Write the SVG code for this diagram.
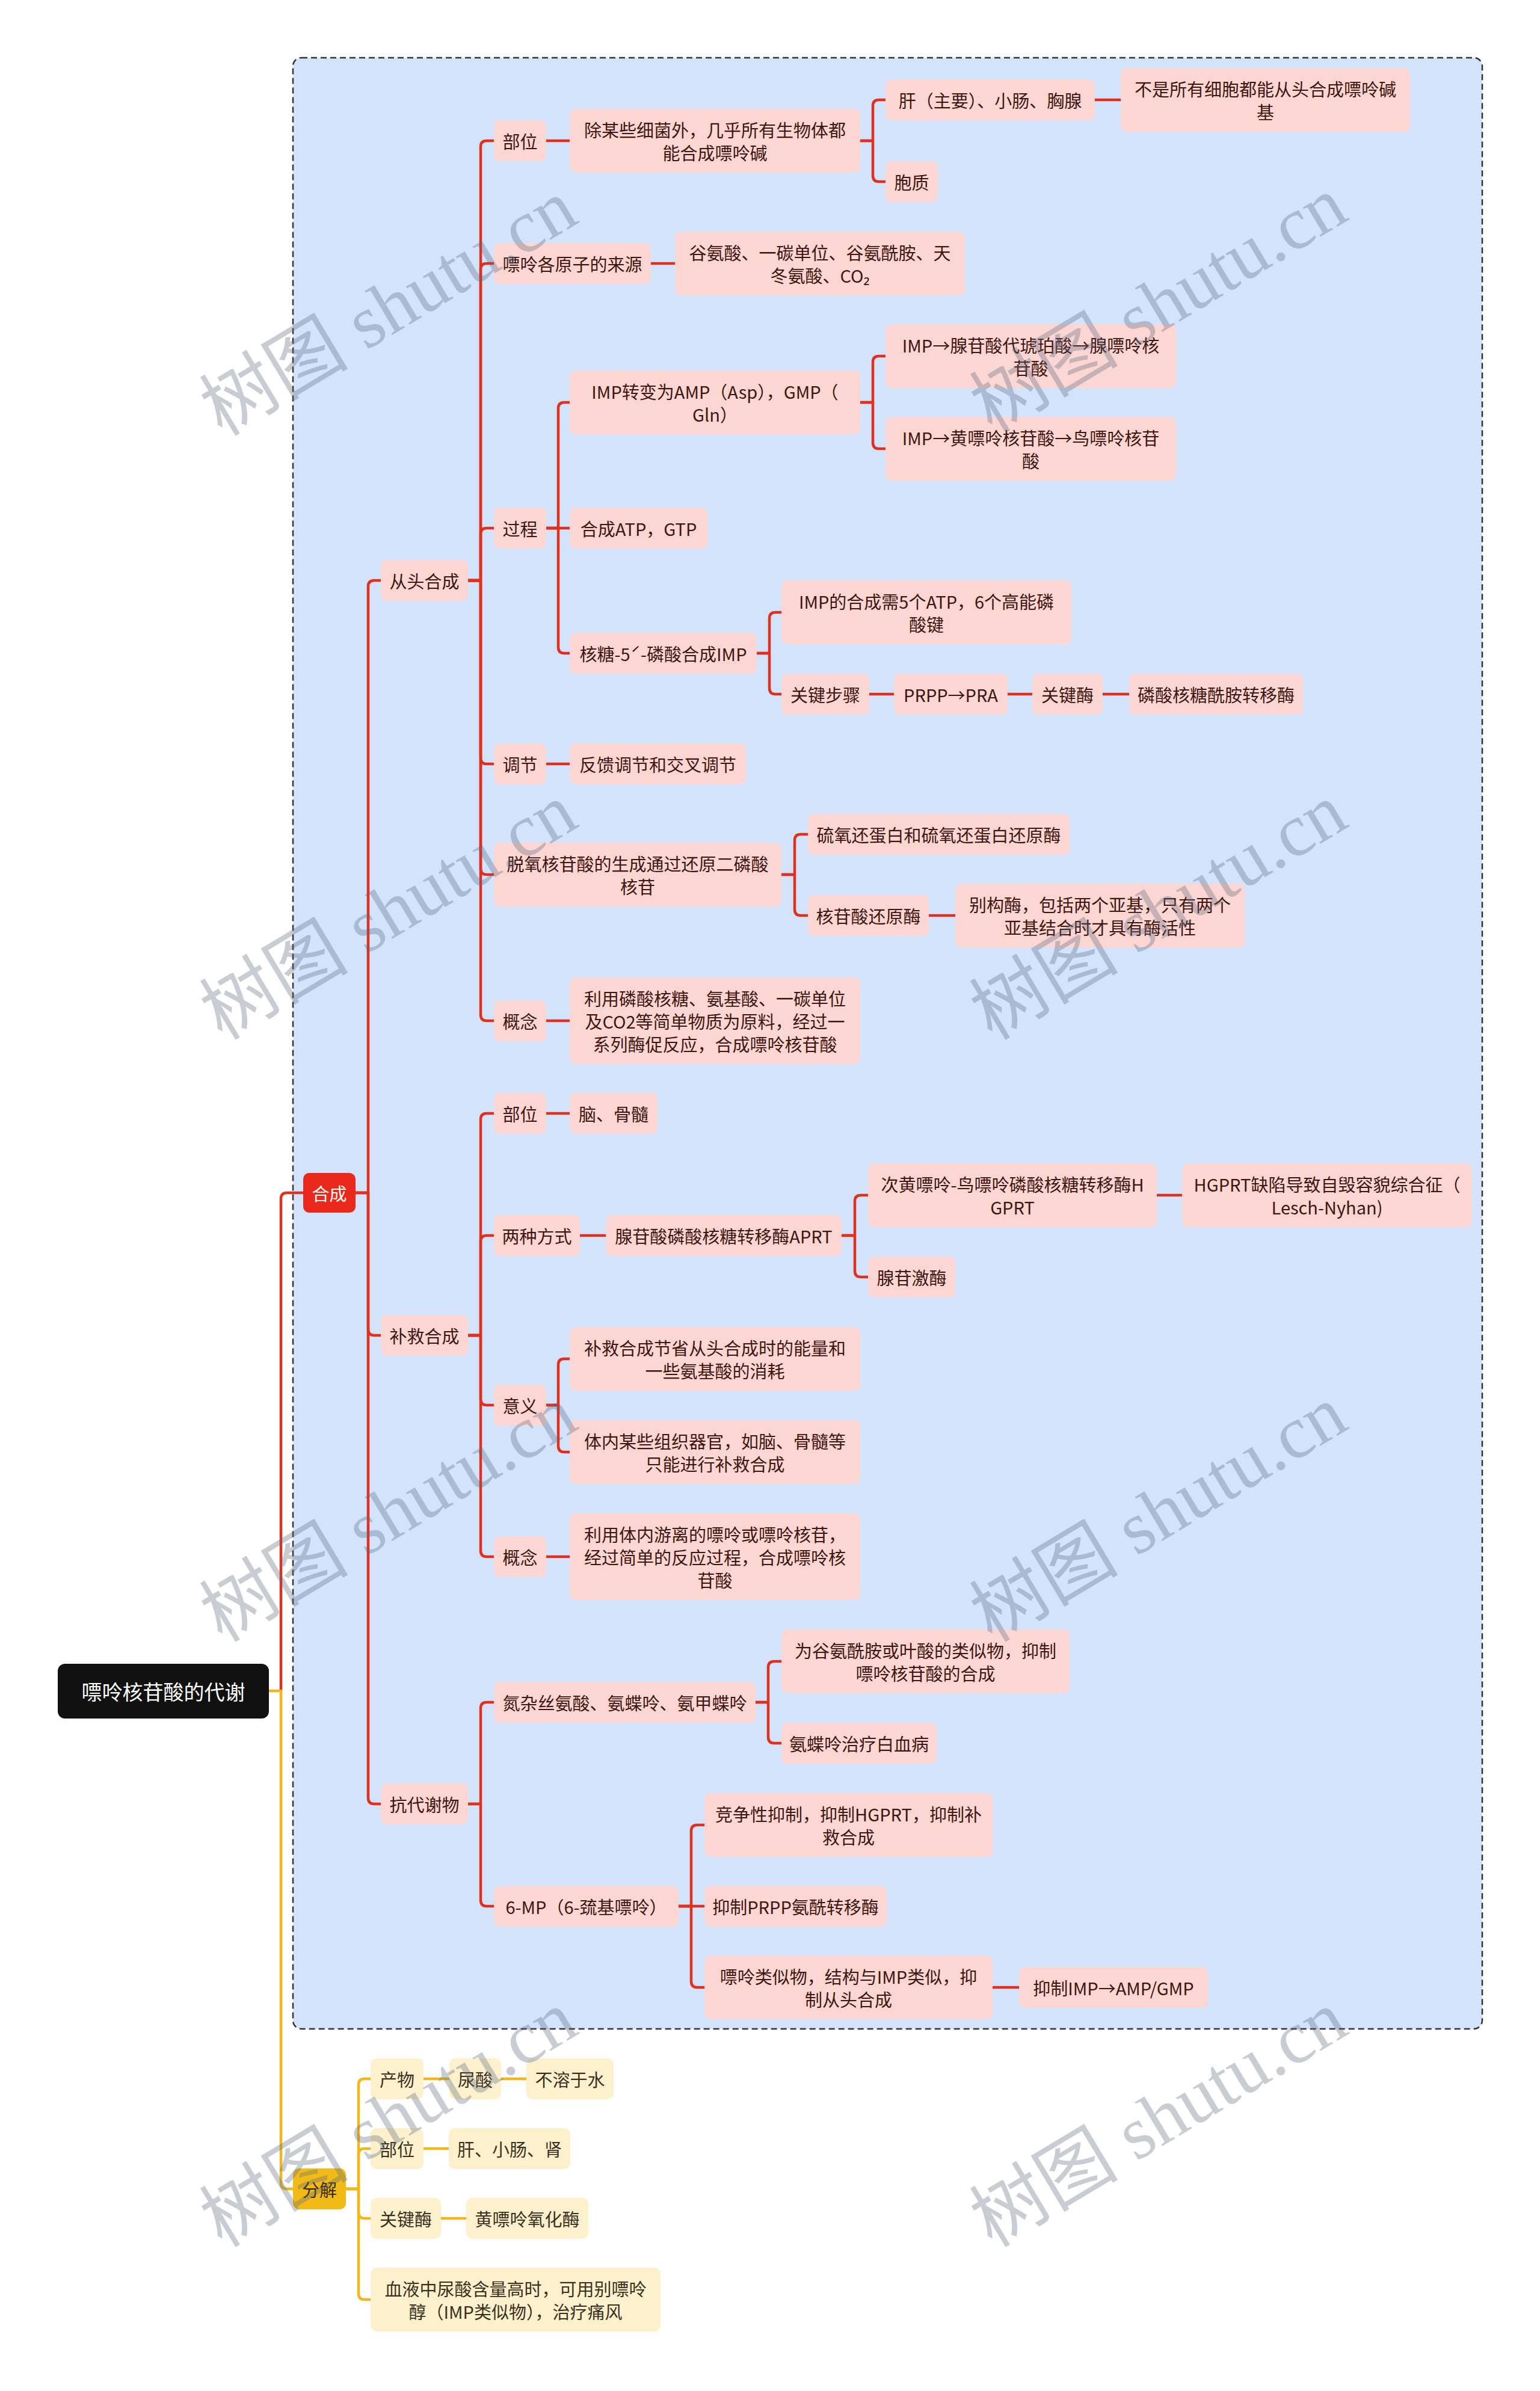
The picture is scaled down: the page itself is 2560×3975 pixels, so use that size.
<svg xmlns="http://www.w3.org/2000/svg" width="2560" height="3975" viewBox="0 0 2560 3975">
<style>
rect{rx:10px;ry:10px}
text{font-family:"Noto Sans CJK SC","Noto Sans",sans-serif;font-size:29px;fill:#401510;text-anchor:middle;dominant-baseline:central}
.pk rect{fill:#FCD6D2}
.yl rect{fill:#FDF0CC}
.yl text{fill:#3b2f1e}
.red rect{fill:#E8291B}
.red text{fill:#ffffff}
.gold rect{fill:#F2BA17}
.gold text{fill:#3b2a05}
.root rect{fill:#111111;rx:12px;ry:12px}
.root text{fill:#ffffff;font-size:34px}
.cr path{fill:none;stroke:#E0301E;stroke-width:4.5;stroke-linecap:round;stroke-linejoin:round}
.cy path{fill:none;stroke:#F0B81C;stroke-width:4.5;stroke-linecap:round;stroke-linejoin:round}
.wm text{font-family:"Liberation Serif","Noto Sans CJK SC",serif;font-size:124px;fill:#5a6a80;opacity:0.33}
</style>
<rect x="0" y="0" width="2560" height="3975" fill="#ffffff" style="rx:0;ry:0"/>
<rect id="boundary" x="487" y="96" width="1977" height="3277" fill="#D3E3FB" stroke="#333" stroke-width="2.5" stroke-dasharray="10 6" style="rx:14px;ry:14px"/>

<g id="connectors">
<g class="cr">
<path d="M467,2811 V1993 Q467,1983 477,1983 H504"/>
<path d="M591,1983 H612 V975 Q612,965 622,965 H633"/>
<path d="M591,1983 H612 V2210 Q612,2220 622,2220 H633"/>
<path d="M591,1983 H612 V2989 Q612,2999 622,2999 H633"/>
<path d="M778,965 H799 V244 Q799,234 809,234 H821"/>
<path d="M778,965 H799 V448 Q799,438 809,438 H821"/>
<path d="M778,965 H799 V888 Q799,878 809,878 H821"/>
<path d="M778,965 H799 V1260 Q799,1270 809,1270 H821"/>
<path d="M778,965 H799 V1444 Q799,1454 809,1454 H821"/>
<path d="M778,965 H799 V1687 Q799,1697 809,1697 H821"/>
<path d="M908,234 H947"/>
<path d="M1430,234 H1451 V176 Q1451,166 1461,166 H1472"/>
<path d="M1430,234 H1451 V292 Q1451,302 1461,302 H1472"/>
<path d="M1820,166 H1863"/>
<path d="M1082,438 H1122"/>
<path d="M908,878 H928 V679 Q928,669 938,669 H947"/>
<path d="M908,878 H947"/>
<path d="M908,878 H928 V1076 Q928,1086 938,1086 H947"/>
<path d="M1430,669 H1451 V602 Q1451,592 1461,592 H1472"/>
<path d="M1430,669 H1451 V736 Q1451,746 1461,746 H1472"/>
<path d="M1258,1086 H1279 V1028 Q1279,1018 1289,1018 H1299"/>
<path d="M1258,1086 H1279 V1144 Q1279,1154 1289,1154 H1299"/>
<path d="M1445,1154 H1486"/>
<path d="M1675,1154 H1716"/>
<path d="M1833,1154 H1877"/>
<path d="M908,1270 H947"/>
<path d="M1299,1454 H1321 V1397 Q1321,1387 1331,1387 H1343"/>
<path d="M1299,1454 H1321 V1512 Q1321,1522 1331,1522 H1343"/>
<path d="M1544,1522 H1588"/>
<path d="M908,1697 H947"/>
<path d="M778,2220 H799 V1861 Q799,1851 809,1851 H821"/>
<path d="M778,2220 H799 V2064 Q799,2054 809,2054 H821"/>
<path d="M778,2220 H799 V2326 Q799,2336 809,2336 H821"/>
<path d="M778,2220 H799 V2578 Q799,2588 809,2588 H821"/>
<path d="M908,1851 H947"/>
<path d="M964,2054 H1007"/>
<path d="M1399,2054 H1421 V1997 Q1421,1987 1431,1987 H1443"/>
<path d="M1399,2054 H1421 V2113 Q1421,2123 1431,2123 H1443"/>
<path d="M1923,1987 H1965"/>
<path d="M908,2336 H928 V2269 Q928,2259 938,2259 H947"/>
<path d="M908,2336 H928 V2404 Q928,2414 938,2414 H947"/>
<path d="M908,2588 H947"/>
<path d="M778,2999 H799 V2840 Q799,2830 809,2830 H821"/>
<path d="M778,2999 H799 V3159 Q799,3169 809,3169 H821"/>
<path d="M1256,2830 H1277 V2772 Q1277,2762 1287,2762 H1299"/>
<path d="M1256,2830 H1277 V2888 Q1277,2898 1287,2898 H1299"/>
<path d="M1128,3169 H1149 V3044 Q1149,3034 1159,3034 H1171"/>
<path d="M1128,3169 H1171"/>
<path d="M1128,3169 H1149 V3294 Q1149,3304 1159,3304 H1171"/>
<path d="M1650,3304 H1694"/>
</g>
<g class="cy">
<path d="M447,2811 H467 V3629 Q467,3639 477,3639 H487"/>
<path d="M575,3639 H596 V3466 Q596,3456 606,3456 H616"/>
<path d="M575,3639 H596 V3582 Q596,3572 606,3572 H616"/>
<path d="M575,3639 H596 V3678 Q596,3688 606,3688 H616"/>
<path d="M575,3639 H596 V3813 Q596,3823 606,3823 H616"/>
<path d="M704,3456 H747"/>
<path d="M833,3456 H875"/>
<path d="M704,3572 H746"/>
<path d="M733,3688 H775"/>
</g>
</g>

<g id="root" class="root"><rect x="96" y="2766" width="351" height="91"/><text x="271.5" y="2811.5">嘌呤核苷酸的代谢</text></g>
<g id="hecheng" class="red"><rect x="504" y="1950" width="87" height="66"/><text x="547.5" y="1983">合成</text></g>
<g id="fenjie" class="gold"><rect x="487" y="3605" width="88" height="68"/><text x="531" y="3639">分解</text></g>

<g id="congtou" class="pk"><rect x="633" y="931" width="145" height="68"/><text x="705.5" y="965">从头合成</text></g>
<g id="bujiu" class="pk"><rect x="633" y="2186" width="145" height="68"/><text x="705.5" y="2220">补救合成</text></g>
<g id="kangdaixie" class="pk"><rect x="633" y="2965" width="145" height="68"/><text x="705.5" y="2999">抗代谢物</text></g>

<g id="ct_buwei" class="pk"><rect x="821" y="200" width="87" height="68"/><text x="864.5" y="234">部位</text></g>
<g id="ct_laiyuan" class="pk"><rect x="821" y="404" width="261" height="68"/><text x="951.5" y="438">嘌呤各原子的来源</text></g>
<g id="ct_guocheng" class="pk"><rect x="821" y="844" width="87" height="68"/><text x="864.5" y="878">过程</text></g>
<g id="ct_tiaojie" class="pk"><rect x="821" y="1236" width="87" height="68"/><text x="864.5" y="1270">调节</text></g>
<g id="ct_tuoyang" class="pk"><rect x="821" y="1401" width="478" height="106"/><text><tspan x="1060" y="1435">脱氧核苷酸的生成通过还原二磷酸</tspan><tspan x="1060" y="1473">核苷</tspan></text></g>
<g id="ct_gainian" class="pk"><rect x="821" y="1663" width="87" height="68"/><text x="864.5" y="1697">概念</text></g>

<g id="n_chumouxie" class="pk"><rect x="947" y="181" width="483" height="106"/><text><tspan x="1188.5" y="215">除某些细菌外，几乎所有生物体都</tspan><tspan x="1188.5" y="253">能合成嘌呤碱</tspan></text></g>
<g id="n_guan" class="pk"><rect x="1122" y="385" width="482" height="106"/><text><tspan x="1363" y="419">谷氨酸、一碳单位、谷氨酰胺、天</tspan><tspan x="1363" y="457">冬氨酸、CO₂</tspan></text></g>
<g id="n_impzb" class="pk"><rect x="947" y="616" width="483" height="106"/><text><tspan x="1188.5" y="650">IMP转变为AMP（Asp），GMP（</tspan><tspan x="1188.5" y="688">Gln）</tspan></text></g>
<g id="n_atp" class="pk"><rect x="947" y="844" width="229" height="68"/><text x="1061.5" y="878">合成ATP，GTP</text></g>
<g id="n_hetang" class="pk"><rect x="947" y="1052" width="311" height="68"/><text x="1102.5" y="1086">核糖-5ˊ-磷酸合成IMP</text></g>
<g id="n_fankui" class="pk"><rect x="947" y="1236" width="293" height="68"/><text x="1093.5" y="1270">反馈调节和交叉调节</text></g>
<g id="n_liuyang" class="pk"><rect x="1343" y="1353" width="435" height="68"/><text x="1560.5" y="1387">硫氧还蛋白和硫氧还蛋白还原酶</text></g>
<g id="n_hgshy" class="pk"><rect x="1343" y="1488" width="201" height="68"/><text x="1443.5" y="1522">核苷酸还原酶</text></g>
<g id="n_liyong1" class="pk"><rect x="947" y="1625" width="483" height="144"/><text><tspan x="1188.5" y="1659">利用磷酸核糖、氨基酸、一碳单位</tspan><tspan x="1188.5" y="1697">及CO2等简单物质为原料，经过一</tspan><tspan x="1188.5" y="1735">系列酶促反应，合成嘌呤核苷酸</tspan></text></g>

<g id="n_gan" class="pk"><rect x="1472" y="132" width="348" height="68"/><text x="1646" y="166">肝（主要）、小肠、胸腺</text></g>
<g id="n_baozhi" class="pk"><rect x="1472" y="268" width="87" height="68"/><text x="1515.5" y="302">胞质</text></g>
<g id="n_imp_a" class="pk"><rect x="1472" y="539" width="483" height="106"/><text><tspan x="1713.5" y="573">IMP→腺苷酸代琥珀酸→腺嘌呤核</tspan><tspan x="1713.5" y="611">苷酸</tspan></text></g>
<g id="n_imp_g" class="pk"><rect x="1472" y="693" width="483" height="106"/><text><tspan x="1713.5" y="727">IMP→黄嘌呤核苷酸→鸟嘌呤核苷</tspan><tspan x="1713.5" y="765">酸</tspan></text></g>
<g id="n_imphc" class="pk"><rect x="1299" y="965" width="482" height="106"/><text><tspan x="1540" y="999">IMP的合成需5个ATP，6个高能磷</tspan><tspan x="1540" y="1037">酸键</tspan></text></g>
<g id="n_gjbz" class="pk"><rect x="1299" y="1120" width="146" height="68"/><text x="1372" y="1154">关键步骤</text></g>
<g id="n_biegou" class="pk"><rect x="1588" y="1469" width="481" height="106"/><text><tspan x="1828.5" y="1503">别构酶，包括两个亚基，只有两个</tspan><tspan x="1828.5" y="1541">亚基结合时才具有酶活性</tspan></text></g>
<g id="n_bushi" class="pk"><rect x="1863" y="113" width="481" height="106"/><text><tspan x="2103.5" y="147">不是所有细胞都能从头合成嘌呤碱</tspan><tspan x="2103.5" y="185">基</tspan></text></g>
<g id="n_prpp" class="pk"><rect x="1486" y="1120" width="189" height="68"/><text x="1580.5" y="1154">PRPP→PRA</text></g>
<g id="n_gjm" class="pk"><rect x="1716" y="1120" width="117" height="68"/><text x="1774.5" y="1154">关键酶</text></g>
<g id="n_lshtxam" class="pk"><rect x="1877" y="1120" width="289" height="68"/><text x="2021.5" y="1154">磷酸核糖酰胺转移酶</text></g>

<g id="bj_buwei" class="pk"><rect x="821" y="1817" width="87" height="68"/><text x="864.5" y="1851">部位</text></g>
<g id="bj_liangzhong" class="pk"><rect x="821" y="2020" width="143" height="68"/><text x="892.5" y="2054">两种方式</text></g>
<g id="bj_yiyi" class="pk"><rect x="821" y="2302" width="87" height="68"/><text x="864.5" y="2336">意义</text></g>
<g id="bj_gainian" class="pk"><rect x="821" y="2554" width="87" height="68"/><text x="864.5" y="2588">概念</text></g>
<g id="n_nao" class="pk"><rect x="947" y="1817" width="146" height="68"/><text x="1020" y="1851">脑、骨髓</text></g>
<g id="n_aprt" class="pk"><rect x="1007" y="2020" width="392" height="68"/><text x="1203" y="2054">腺苷酸磷酸核糖转移酶APRT</text></g>
<g id="n_jiesheng" class="pk"><rect x="947" y="2206" width="483" height="106"/><text><tspan x="1188.5" y="2240">补救合成节省从头合成时的能量和</tspan><tspan x="1188.5" y="2278">一些氨基酸的消耗</tspan></text></g>
<g id="n_tinei" class="pk"><rect x="947" y="2361" width="483" height="106"/><text><tspan x="1188.5" y="2395">体内某些组织器官，如脑、骨髓等</tspan><tspan x="1188.5" y="2433">只能进行补救合成</tspan></text></g>
<g id="n_liyong2" class="pk"><rect x="947" y="2516" width="483" height="144"/><text><tspan x="1188.5" y="2550">利用体内游离的嘌呤或嘌呤核苷，</tspan><tspan x="1188.5" y="2588">经过简单的反应过程，合成嘌呤核</tspan><tspan x="1188.5" y="2626">苷酸</tspan></text></g>
<g id="n_hgprt" class="pk"><rect x="1443" y="1934" width="480" height="106"/><text><tspan x="1683" y="1968">次黄嘌呤-鸟嘌呤磷酸核糖转移酶H</tspan><tspan x="1683" y="2006">GPRT</tspan></text></g>
<g id="n_xgjm" class="pk"><rect x="1443" y="2089" width="145" height="68"/><text x="1515.5" y="2123">腺苷激酶</text></g>
<g id="n_lesch" class="pk"><rect x="1965" y="1934" width="482" height="106"/><text><tspan x="2206" y="1968">HGPRT缺陷导致自毁容貌综合征（</tspan><tspan x="2206" y="2006">Lesch-Nyhan)</tspan></text></g>

<g id="kd_danza" class="pk"><rect x="821" y="2796" width="435" height="68"/><text x="1038.5" y="2830">氮杂丝氨酸、氨蝶呤、氨甲蝶呤</text></g>
<g id="kd_6mp" class="pk"><rect x="821" y="3135" width="307" height="68"/><text x="974.5" y="3169">6-MP（6-巯基嘌呤）</text></g>
<g id="n_weigu" class="pk"><rect x="1299" y="2709" width="479" height="106"/><text><tspan x="1538.5" y="2743">为谷氨酰胺或叶酸的类似物，抑制</tspan><tspan x="1538.5" y="2781">嘌呤核苷酸的合成</tspan></text></g>
<g id="n_andieling" class="pk"><rect x="1299" y="2864" width="258" height="68"/><text x="1428" y="2898">氨蝶呤治疗白血病</text></g>
<g id="n_jingzheng" class="pk"><rect x="1171" y="2981" width="479" height="106"/><text><tspan x="1410.5" y="3015">竞争性抑制，抑制HGPRT，抑制补</tspan><tspan x="1410.5" y="3053">救合成</tspan></text></g>
<g id="n_yizhiprpp" class="pk"><rect x="1171" y="3135" width="303" height="68"/><text x="1322.5" y="3169">抑制PRPP氨酰转移酶</text></g>
<g id="n_leisi" class="pk"><rect x="1171" y="3251" width="479" height="106"/><text><tspan x="1410.5" y="3285">嘌呤类似物，结构与IMP类似，抑</tspan><tspan x="1410.5" y="3323">制从头合成</tspan></text></g>
<g id="n_yizhiimp" class="pk"><rect x="1694" y="3270" width="314" height="68"/><text x="1851" y="3304">抑制IMP→AMP/GMP</text></g>

<g id="fj_chanwu" class="yl"><rect x="616" y="3422" width="88" height="68"/><text x="660" y="3456">产物</text></g>
<g id="fj_buwei" class="yl"><rect x="616" y="3538" width="88" height="68"/><text x="660" y="3572">部位</text></g>
<g id="fj_gjm" class="yl"><rect x="616" y="3654" width="117" height="68"/><text x="674.5" y="3688">关键酶</text></g>
<g id="fj_xueye" class="yl"><rect x="616" y="3770" width="482" height="106"/><text><tspan x="857" y="3804">血液中尿酸含量高时，可用别嘌呤</tspan><tspan x="857" y="3842">醇（IMP类似物），治疗痛风</tspan></text></g>
<g id="fj_niaosuan" class="yl"><rect x="747" y="3422" width="86" height="68"/><text x="790" y="3456">尿酸</text></g>
<g id="fj_burong" class="yl"><rect x="875" y="3422" width="145" height="68"/><text x="947.5" y="3456">不溶于水</text></g>
<g id="fj_gan" class="yl"><rect x="746" y="3538" width="202" height="68"/><text x="847" y="3572">肝、小肠、肾</text></g>
<g id="fj_huang" class="yl"><rect x="775" y="3654" width="203" height="68"/><text x="876.5" y="3688">黄嘌呤氧化酶</text></g>

<g id="watermark" class="wm">
<text x="646" y="512" transform="rotate(-31 646 512)">树图 shutu.cn</text>
<text x="1926" y="507" transform="rotate(-31 1926 507)">树图 shutu.cn</text>
<text x="646" y="1516" transform="rotate(-31 646 1516)">树图 shutu.cn</text>
<text x="1926" y="1516" transform="rotate(-31 1926 1516)">树图 shutu.cn</text>
<text x="646" y="2517" transform="rotate(-31 646 2517)">树图 shutu.cn</text>
<text x="1926" y="2517" transform="rotate(-31 1926 2517)">树图 shutu.cn</text>
<text x="646" y="3523" transform="rotate(-31 646 3523)">树图 shutu.cn</text>
<text x="1926" y="3523" transform="rotate(-31 1926 3523)">树图 shutu.cn</text>
</g>
</svg>
